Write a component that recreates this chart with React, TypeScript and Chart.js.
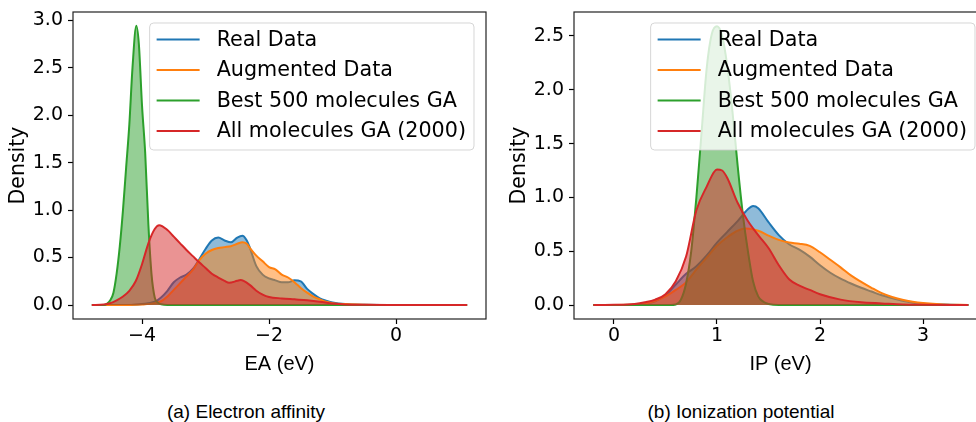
import React, { useEffect, useRef } from "react";
import { Chart, registerables } from "chart.js";

Chart.register(...registerables);

// ---------- shared ----------
const seriesNames = ["Real Data", "Augmented Data", "Best 500 molecules GA", "All molecules GA (2000)"];
const seriesColors = ["#1f77b4", "#ff7f0e", "#2ca02c", "#d62728"];
const fillColors = [
  "rgba(31,119,180,0.5)",
  "rgba(255,127,14,0.5)",
  "rgba(44,160,44,0.5)",
  "rgba(214,39,40,0.5)",
];

// ---------- (a) Electron affinity ----------
const eaXTicks = [-4, -2, 0];
const eaYTicks = [0, 0.5, 1.0, 1.5, 2.0, 2.5, 3.0];

const eaRealX = [-4.79, -4.2, -4.0, -3.9, -3.8, -3.7, -3.6, -3.5, -3.4, -3.3, -3.2, -3.1, -3.0, -2.9, -2.8, -2.7, -2.6, -2.5, -2.42, -2.35, -2.3, -2.2, -2.1, -2.0, -1.9, -1.8, -1.7, -1.6, -1.5, -1.4, -1.3, -1.2, -1.1, -1.0, -0.8, -0.5, 0.0, 1.12];
const eaRealY = [0, 0, 0.01, 0.02, 0.035, 0.08, 0.15, 0.24, 0.29, 0.32, 0.38, 0.48, 0.59, 0.68, 0.71, 0.68, 0.66, 0.71, 0.73, 0.68, 0.6, 0.41, 0.32, 0.28, 0.26, 0.24, 0.24, 0.26, 0.25, 0.17, 0.115, 0.07, 0.045, 0.028, 0.01, 0.003, 0.001, 0];

const eaAugX = [-4.79, -4.2, -4.0, -3.8, -3.7, -3.6, -3.5, -3.4, -3.3, -3.2, -3.1, -3.0, -2.9, -2.8, -2.7, -2.6, -2.5, -2.42, -2.35, -2.3, -2.2, -2.1, -2.0, -1.9, -1.8, -1.7, -1.6, -1.5, -1.4, -1.3, -1.2, -1.1, -1.0, -0.8, -0.5, 0.0, 1.12];
const eaAugY = [0, 0, 0.005, 0.02, 0.04, 0.09, 0.16, 0.23, 0.3, 0.37, 0.47, 0.54, 0.58, 0.6, 0.61, 0.62, 0.645, 0.66, 0.645, 0.6, 0.52, 0.46, 0.4, 0.375, 0.32, 0.29, 0.24, 0.18, 0.13, 0.088, 0.06, 0.035, 0.02, 0.01, 0.004, 0.001, 0];

const eaBestX = [-4.79, -4.6, -4.55, -4.5, -4.45, -4.4, -4.35, -4.3, -4.25, -4.2, -4.15, -4.09, -4.05, -4.0, -3.95, -3.9, -3.85, -3.8, -3.75, -3.7, -3.6, 1.12];
const eaBestY = [0, 0, 0.015, 0.05, 0.13, 0.33, 0.62, 1.0, 1.45, 1.9, 2.5, 2.94, 2.75, 2.1, 1.6, 0.85, 0.32, 0.08, 0.025, 0.008, 0, 0];

const eaAllX = [-4.79, -4.6, -4.5, -4.4, -4.3, -4.2, -4.1, -4.0, -3.9, -3.8, -3.73, -3.6, -3.5, -3.4, -3.3, -3.2, -3.1, -3.0, -2.9, -2.8, -2.7, -2.63, -2.5, -2.45, -2.4, -2.3, -2.2, -2.1, -2.0, -1.8, -1.6, -1.4, -1.2, -1.0, -0.8, -0.5, 0.0, 1.12];
const eaAllY = [0, 0.005, 0.02, 0.05, 0.09, 0.15, 0.25, 0.43, 0.65, 0.8, 0.84, 0.79, 0.72, 0.65, 0.58, 0.515, 0.45, 0.39, 0.33, 0.29, 0.255, 0.235, 0.255, 0.263, 0.255, 0.21, 0.15, 0.11, 0.085, 0.07, 0.06, 0.05, 0.035, 0.015, 0.005, 0.002, 0.001, 0];

// ---------- (b) Ionization potential ----------
const ipXTicks = [0, 1, 2, 3];
const ipYTicks = [0, 0.5, 1.0, 1.5, 2.0, 2.5];

const ipRealX = [-0.2, 0.2, 0.3, 0.4, 0.5, 0.6, 0.7, 0.8, 0.9, 1.0, 1.1, 1.2, 1.3, 1.35, 1.4, 1.5, 1.6, 1.7, 1.8, 1.9, 2.0, 2.1, 2.2, 2.3, 2.4, 2.5, 2.6, 2.7, 2.8, 2.9, 3.0, 3.2, 3.44];
const ipRealY = [0, 0.003, 0.012, 0.035, 0.09, 0.19, 0.29, 0.36, 0.46, 0.58, 0.68, 0.78, 0.89, 0.92, 0.9, 0.77, 0.65, 0.565, 0.515, 0.45, 0.37, 0.3, 0.245, 0.2, 0.16, 0.125, 0.09, 0.065, 0.04, 0.022, 0.012, 0.004, 0];

const ipAugX = [-0.2, 0.2, 0.3, 0.4, 0.5, 0.6, 0.7, 0.8, 0.9, 1.0, 1.1, 1.2, 1.28, 1.4, 1.5, 1.6, 1.7, 1.8, 1.9, 2.0, 2.1, 2.2, 2.3, 2.4, 2.5, 2.6, 2.7, 2.8, 2.9, 3.0, 3.2, 3.44];
const ipAugY = [0, 0.005, 0.015, 0.04, 0.08, 0.14, 0.21, 0.33, 0.44, 0.55, 0.63, 0.69, 0.71, 0.69, 0.645, 0.605, 0.58, 0.57, 0.55, 0.49, 0.42, 0.35, 0.275, 0.215, 0.16, 0.11, 0.075, 0.048, 0.03, 0.018, 0.005, 0];

const ipBestX = [-0.2, 0.55, 0.6, 0.65, 0.7, 0.75, 0.8, 0.85, 0.9, 0.95, 1.0, 1.05, 1.1, 1.15, 1.2, 1.25, 1.3, 1.35, 1.4, 1.45, 1.5, 1.6, 3.44];
const ipBestY = [0, 0, 0.005, 0.05, 0.2, 0.5, 1.0, 1.6, 2.2, 2.52, 2.59, 2.5, 2.22, 1.8, 1.3, 0.85, 0.5, 0.22, 0.08, 0.03, 0.01, 0, 0];

const ipAllX = [-0.2, 0.0, 0.2, 0.3, 0.4, 0.5, 0.6, 0.7, 0.8, 0.9, 1.0, 1.05, 1.1, 1.2, 1.3, 1.4, 1.5, 1.6, 1.7, 1.8, 1.9, 2.0, 2.2, 2.4, 2.6, 2.8, 3.0, 3.44];
const ipAllY = [0, 0.002, 0.01, 0.025, 0.05, 0.1, 0.22, 0.45, 0.88, 1.1, 1.26, 1.25, 1.18, 0.95, 0.78, 0.65, 0.53, 0.37, 0.24, 0.18, 0.14, 0.1, 0.05, 0.025, 0.015, 0.005, 0.002, 0];

// ---------- plugin: spines + matplotlib-like legend ----------
const overlayPlugin = {
  id: "mplOverlay",
  afterDraw(chart: any) {
    const { ctx, chartArea: a } = chart;
    ctx.save();
    ctx.strokeStyle = "#222";
    ctx.lineWidth = 1.2;
    ctx.strokeRect(a.left, a.top, a.right - a.left, a.bottom - a.top);

    const fs = 20.7;
    ctx.font = `${fs}px "DejaVu Sans"`;
    const names = chart.data.datasets.map((d: any) => d.label);
    const maxW = Math.max(...names.map((n: string) => ctx.measureText(n).width));
    const w = 7 + 43 + 17 + maxW + 8;
    const h = 127;
    const right = a.right - 12;
    const top = a.top + 11;
    const left = right - w;
    ctx.beginPath();
    if ((ctx as any).roundRect) (ctx as any).roundRect(left, top, w, h, 4);
    else ctx.rect(left, top, w, h);
    ctx.fillStyle = "rgba(255,255,255,0.8)";
    ctx.fill();
    ctx.strokeStyle = "rgba(204,204,204,0.8)";
    ctx.lineWidth = 1;
    ctx.stroke();
    chart.data.datasets.forEach((d: any, i: number) => {
      const y = top + 16.5 + i * 30.5;
      ctx.strokeStyle = d.borderColor;
      ctx.lineWidth = 2;
      ctx.beginPath();
      ctx.moveTo(left + 7, y);
      ctx.lineTo(left + 50, y);
      ctx.stroke();
      ctx.fillStyle = "#000";
      ctx.textBaseline = "middle";
      ctx.textAlign = "left";
      ctx.fillText(d.label, left + 67, y + 1);
    });
    ctx.restore();
  },
};

type Panel = {
  xs: number[][];
  ys: number[][];
  xMin: number;
  xMax: number;
  yMin: number;
  yMax: number;
  xTicks: number[];
  yTicks: number[];
  xTitle: string;
  yAxisWidth: number;
  yTitlePad: number;
  padRight: number;
};

function makeConfig(p: Panel): any {
  return {
    type: "line",
    data: {
      datasets: p.xs.map((xArr, i) => ({
        label: seriesNames[i],
        data: xArr.map((x, j) => ({ x, y: p.ys[i][j] })),
        borderColor: seriesColors[i],
        backgroundColor: fillColors[i],
        borderWidth: 2,
        pointRadius: 0,
        fill: "origin",
        cubicInterpolationMode: "monotone",
        order: 4 - i,
      })),
    },
    options: {
      responsive: false,
      animation: false,
      events: [],
      layout: { padding: { top: 12, right: p.padRight, left: 0, bottom: 0 } },
      plugins: { legend: { display: false }, tooltip: { enabled: false } },
      scales: {
        x: {
          type: "linear",
          min: p.xMin,
          max: p.xMax,
          afterBuildTicks: (s: any) => {
            s.ticks = p.xTicks.map((v) => ({ value: v }));
          },
          afterFit: (s: any) => {
            s.height = 61;
            s.paddingLeft = 0;
            s.paddingRight = 0;
          },
          ticks: {
            autoSkip: false,
            maxRotation: 0,
            padding: 1,
            color: "#000",
            font: { family: "DejaVu Sans", size: 19 },
            callback: (v: any) => String(v).replace("-", "\u2212"),
          },
          grid: { drawOnChartArea: false, drawTicks: true, tickLength: 5, tickColor: "#000", tickWidth: 1.2 },
          border: { display: false },
          title: {
            display: true,
            text: p.xTitle,
            color: "#000",
            font: { family: "Liberation Sans", size: 20 },
            padding: { top: 0, bottom: 4 },
          },
        },
        y: {
          type: "linear",
          min: p.yMin,
          max: p.yMax,
          afterBuildTicks: (s: any) => {
            s.ticks = p.yTicks.map((v) => ({ value: v }));
          },
          afterFit: (s: any) => {
            s.width = p.yAxisWidth;
            s.paddingTop = 0;
            s.paddingBottom = 0;
          },
          ticks: {
            autoSkip: false,
            padding: 5,
            color: "#000",
            font: { family: "DejaVu Sans", size: 19 },
            callback: (v: any) => Number(v).toFixed(1),
          },
          grid: { drawOnChartArea: false, drawTicks: true, tickLength: 5, tickColor: "#000", tickWidth: 1.2 },
          border: { display: false },
          title: {
            display: true,
            text: "Density",
            color: "#000",
            font: { family: "DejaVu Sans", size: 20.5 },
            padding: { top: p.yTitlePad, bottom: 0 },
          },
        },
      },
    },
    plugins: [overlayPlugin],
  };
}

const eaPanel: Panel = {
  xs: [eaRealX, eaAugX, eaBestX, eaAllX],
  ys: [eaRealY, eaAugY, eaBestY, eaAllY],
  xMin: -5.087,
  xMax: 1.417,
  yMin: -0.147,
  yMax: 3.086,
  xTicks: eaXTicks,
  yTicks: eaYTicks,
  xTitle: "EA (eV)",
  yAxisWidth: 73,
  yTitlePad: 6,
  padRight: 4,
};

const ipPanel: Panel = {
  xs: [ipRealX, ipAugX, ipBestX, ipAllX],
  ys: [ipRealY, ipAugY, ipBestY, ipAllY],
  xMin: -0.388,
  xMax: 3.621,
  yMin: -0.13,
  yMax: 2.723,
  xTicks: ipXTicks,
  yTicks: ipYTicks,
  xTitle: "IP (eV)",
  yAxisWidth: 84,
  yTitlePad: 17,
  padRight: 3,
};

function PanelChart({ panel, left, width }: { panel: Panel; left: number; width: number }) {
  const ref = useRef<HTMLCanvasElement | null>(null);
  useEffect(() => {
    if (!ref.current) return;
    const chart = new Chart(ref.current, makeConfig(panel));
    return () => chart.destroy();
  }, [panel]);
  return (
    <canvas
      ref={ref}
      width={width}
      height={380}
      style={{ position: "absolute", left, top: 0, width, height: 380 }}
    />
  );
}

const captionStyle: React.CSSProperties = {
  position: "absolute",
  top: 400,
  width: 400,
  height: 24,
  lineHeight: "24px",
  textAlign: "center",
  fontFamily: "'Liberation Sans', sans-serif",
  fontSize: 19,
  color: "#000",
  whiteSpace: "nowrap",
};

export default function App() {
  return (
    <div
      style={{
        position: "fixed",
        left: 0,
        top: 0,
        width: 976,
        height: 422,
        overflow: "hidden",
        background: "#fff",
      }}
    >
      <PanelChart panel={eaPanel} left={0} width={490} />
      <PanelChart panel={ipPanel} left={490} width={500} />
      <div style={{ ...captionStyle, left: 246 - 200 }}>(a) Electron affinity</div>
      <div style={{ ...captionStyle, left: 741 - 200 }}>(b) Ionization potential</div>
    </div>
  );
}
